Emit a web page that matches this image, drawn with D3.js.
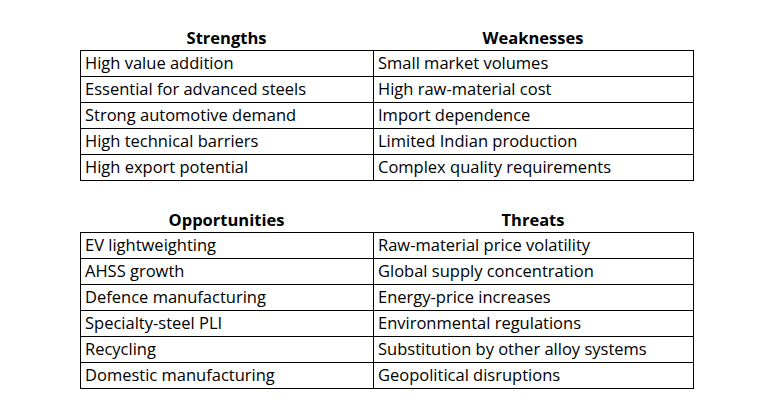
<!DOCTYPE html>
<html lang="en">
  <head>
    <meta charset="UTF-8" />
    <title>SWOT</title>
    <style>
      body { margin: 0; background: #fff; }
    </style>
    <script src="https://cdn.jsdelivr.net/npm/d3@7"></script>
  </head>
  <body>
    <script>
      const headersTop = ["Strengths", "Weaknesses"];
      const strengths = ["High value addition", "Essential for advanced steels", "Strong automotive demand", "High technical barriers", "High export potential"];
      const weaknesses = ["Small market volumes", "High raw-material cost", "Import dependence", "Limited Indian production", "Complex quality requirements"];
      const headersBottom = ["Opportunities", "Threats"];
      const opportunities = ["EV lightweighting", "AHSS growth", "Defence manufacturing", "Specialty-steel PLI", "Recycling", "Domestic manufacturing"];
      const threats = ["Raw-material price volatility", "Global supply concentration", "Energy-price increases", "Environmental regulations", "Substitution by other alloy systems", "Geopolitical disruptions"];

      const svg = d3.select("body").append("svg").attr("width", 774).attr("height", 413)
        .attr("font-family", "Open Sans, sans-serif");

      const x = d3.scaleOrdinal().domain([0, 1, 2]).range([80, 373, 693]);
      const rowH = 26;

      function table(headers, left, right, top) {
        const g = svg.append("g");
        const rows = d3.zip(left, right);
        g.selectAll("text.h").data(headers).join("text")
          .attr("class", "h")
          .attr("x", (d, i) => (x(i) + x(i + 1)) / 2)
          .attr("y", top - 6)
          .attr("text-anchor", "middle")
          .attr("font-weight", "bold").attr("font-size", 16.5)
          .text(d => d);
        rows.forEach((r, j) => {
          r.forEach((t, i) => {
            g.append("rect")
              .attr("x", x(i) + 0.5).attr("y", top + j * rowH + 0.5)
              .attr("width", x(i + 1) - x(i)).attr("height", rowH)
              .attr("fill", "none").attr("stroke", "#000").attr("stroke-width", 1);
            g.append("text")
              .attr("x", x(i) + 5).attr("y", top + j * rowH + 19)
              .attr("font-size", 16.5)
              .text(t);
          });
        });
      }

      table(headersTop, strengths, weaknesses, 50);
      table(headersBottom, opportunities, threats, 232);
    </script>
  </body>
</html>
